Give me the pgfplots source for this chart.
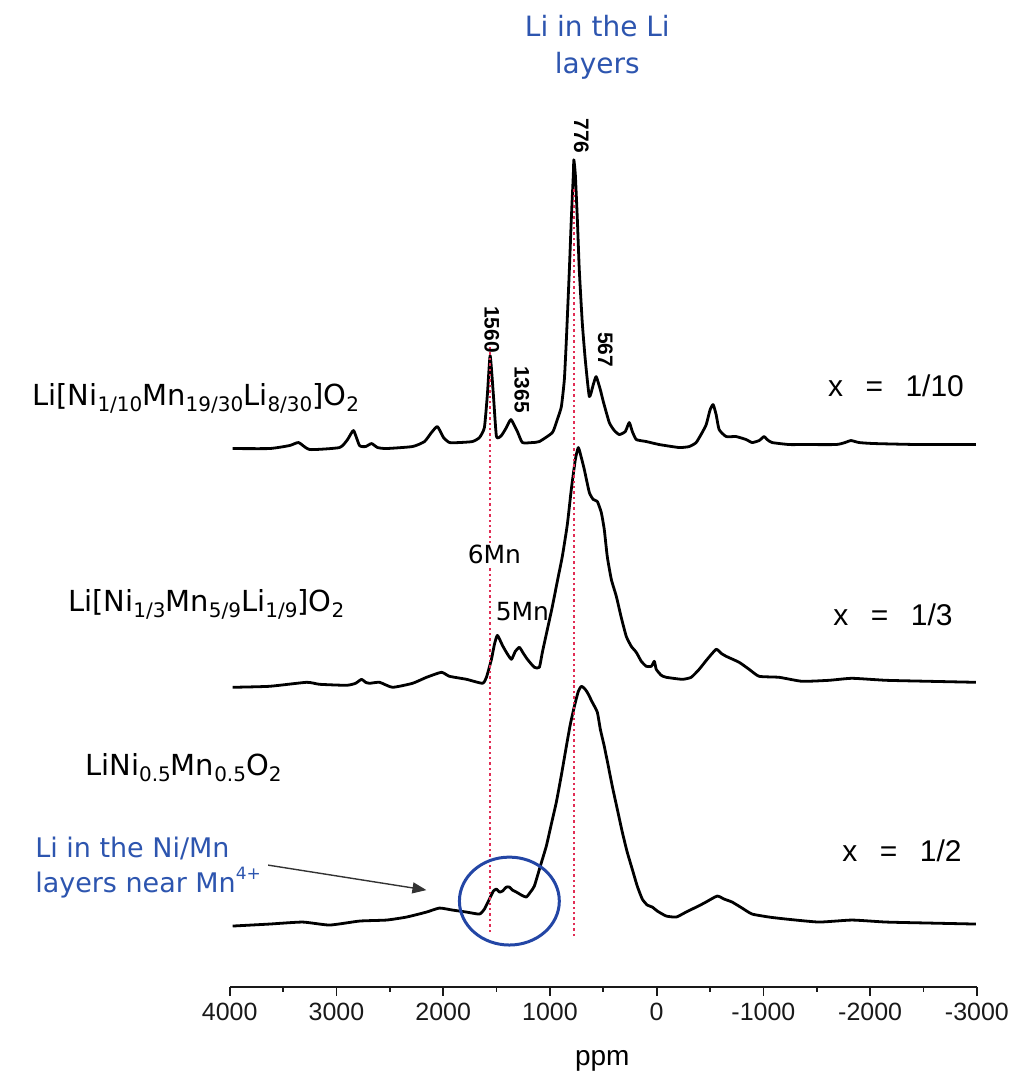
\documentclass[border=0pt]{standalone}
\usepackage{pgfplots}
\pgfplotsset{compat=1.18}
\usepackage{fontspec}
\setmainfont{DejaVu Sans}
\newfontfamily\arialfont{Liberation Sans}
\usetikzlibrary{arrows.meta}

\definecolor{annblue}{RGB}{45,85,175}
\definecolor{circblue}{RGB}{35,70,165}
\definecolor{refred}{RGB}{225,45,85}

% chemical sub- and superscripts
\newcommand\sbs[1]{\raisebox{-0.22em}{\fontsize{10}{10}\selectfont #1}}
\newcommand\sps[1]{\raisebox{0.45em}{\fontsize{8.5}{9}\selectfont #1}}

\begin{document}
\begin{tikzpicture}
\begin{axis}[
  scale only axis, width=374pt, height=494pt,
  xmin=-3000, xmax=4000, ymin=90, ymax=1078,
  x dir=reverse,
  axis x line=bottom, axis y line=none,
  axis line style={-},
  x axis line style={line width=0.85pt, black!90},
  xtick={-3000,-2000,...,4000},
  minor xtick={-2500,-1500,...,3500},
  tick align=outside,
  major tick length=4.5pt, minor tick length=2.5pt,
  every tick/.style={line width=0.85pt, black!90},
  scaled x ticks=false,
  xticklabel style={font=\arialfont\fontsize{12.5}{14}\selectfont, black!90},
  /pgf/number format/assume math mode=true,
  /pgf/number format/1000 sep={},
  clip=false,
  spectrum/.style={black, line width=1.4pt, line join=round, smooth, tension=0.3},
]

% page extent
\path (axis cs:6152,0) rectangle (axis cs:-3318,1078);

% x = 1/10
\addplot[spectrum] coordinates {
(3972,629) (3626,629) (3439,632) (3354,635) (3251,628) (2971,630) (2896,638)
(2840,647) (2784,632) (2727,631) (2671,634) (2615,630) (2531,629) (2287,631)
(2175,636) (2110,645) (2054,651) (1997,640) (1941,635) (1848,635) (1726,636)
(1660,640) (1614,650) (1586,683) (1560,722) (1530,683) (1501,641) (1455,642)
(1408,650) (1365,658) (1305,646) (1258,635) (1165,635) (1099,636) (977,645)
(931,658) (893,671) (865,698) (846,738) (818,808) (800,858) (781,903)
(776,918) (762,903) (743,858) (725,808) (697,755) (669,718) (631,681)
(594,693) (567,701) (528,688) (500,676) (444,655) (397,647) (350,643)
(294,646) (257,655) (228,646) (191,638) (97,636) (-24,633) (-211,630)
(-305,631) (-370,635) (-426,645) (-464,653) (-501,668) (-529,673) (-557,663)
(-585,648) (-651,641) (-744,641) (-838,638) (-894,635) (-960,637) (-1006,641)
(-1035,638) (-1081,635) (-1240,633) (-1362,633) (-1680,633) (-1764,635)
(-1821,637) (-1896,635) (-2036,634) (-2457,633) (-2990,633)
};

% x = 1/3
\addplot[spectrum] coordinates {
(3972,390) (3626,391) (3279,395) (3158,393) (2905,392) (2821,394) (2765,398)
(2727,395) (2690,394) (2596,395) (2475,390) (2287,394) (2156,400) (2016,405)
(1941,401) (1782,398) (1632,394) (1595,400) (1548,418) (1520,433) (1492,442)
(1445,432) (1408,425) (1361,418) (1324,426) (1286,430) (1249,424) (1211,418)
(1146,410) (1099,410) (1071,425) (1024,448) (977,471) (931,496) (884,521)
(837,553) (800,588) (762,618) (734,630) (706,620) (678,608) (631,585)
(594,578) (556,576) (519,565) (491,548) (463,521) (425,498) (378,481)
(332,460) (285,441) (238,431) (191,425) (144,416) (97,411) (50,411) (22,416)
(4,408) (-43,402) (-90,400) (-239,398) (-323,400) (-398,408) (-473,418)
(-557,428) (-604,424) (-651,421) (-773,415) (-866,408) (-960,401) (-1147,400)
(-1362,396) (-1615,397) (-1830,399) (-2148,397) (-2551,396) (-2990,395)
};

% x = 1/2
\addplot[spectrum] coordinates {
(3972,151) (3626,153) (3317,155) (3064,152) (2783,156) (2531,157) (2344,160)
(2156,165) (2035,169) (1913,167) (1782,165) (1660,163) (1614,168) (1567,178)
(1530,186) (1501,188) (1473,185) (1445,186) (1408,190) (1380,190) (1352,187)
(1314,185) (1267,182) (1221,180) (1183,185) (1146,191) (1090,211) (1034,231)
(987,253) (940,275) (893,302) (846,331) (809,353) (771,371) (734,386)
(706,391) (678,389) (650,385) (603,375) (556,365) (528,348) (491,331)
(453,311) (416,291) (369,268) (322,245) (276,225) (229,208) (182,191)
(135,178) (88,172) (41,170) (-6,166) (-90,161) (-183,160) (-258,164)
(-333,168) (-445,174) (-566,181) (-632,178) (-707,175) (-800,169) (-894,163)
(-1053,160) (-1212,158) (-1521,155) (-1830,157) (-2148,155) (-2551,154)
(-2990,153)
};

% reference shifts
\addplot[refred, line width=1.25pt, dash pattern=on 1.2pt off 1.5pt] coordinates {(776,141) (776,891)};
\addplot[refred, line width=1.25pt, dash pattern=on 1.2pt off 1.5pt] coordinates {(1560,145) (1560,731)};

% peak positions
\begin{scope}[every node/.style={rotate=-90, font=\arialfont\bfseries\fontsize{10.5}{11}\selectfont, inner sep=0pt}]
\node at (axis cs:706,942) {776};
\node at (axis cs:1544,748) {1560};
\node at (axis cs:1263,688) {1365};
\node at (axis cs:481,728) {567};
\end{scope}

% compositions
\begin{scope}[every node/.style={font=\fontsize{14.5}{17}\selectfont, inner sep=0pt}]
\node[anchor=base west] at (axis cs:5853,672) {Li[Ni\sbs{1/10}Mn\sbs{19/30}Li\sbs{8/30}]O\sbs{2}};
\node[anchor=base west] at (axis cs:5516,466) {Li[Ni\sbs{1/3}Mn\sbs{5/9}Li\sbs{1/9}]O\sbs{2}};
\node[anchor=base west] at (axis cs:5357,302) {LiNi\sbs{0.5}Mn\sbs{0.5}O\sbs{2}};
\end{scope}

\begin{scope}[every node/.style={font=\arialfont\fontsize{15}{17}\selectfont, inner sep=0pt}]
\node at (axis cs:-2242,692) {x\hspace{0.75em}=\hspace{0.75em}1/10};
\node at (axis cs:-2214,463) {x\hspace{0.75em}=\hspace{0.75em}1/3};
\node at (axis cs:-2298,226) {x\hspace{0.75em}=\hspace{0.75em}1/2};
\end{scope}

\node[font=\fontsize{12.5}{14}\selectfont, fill=white, inner sep=1pt] at (axis cs:1520,523) {6Mn};
\node[font=\fontsize{12.5}{14}\selectfont, inner sep=1pt] at (axis cs:1258,466) {5Mn};

% annotations
\node[annblue, font=\fontsize{14}{18.5}\selectfont, align=center] at (axis cs:556,1031) {Li in the Li\\layers};
\node[annblue, font=\fontsize{13.5}{17.5}\selectfont, align=left, anchor=west, inner sep=0pt] at (axis cs:5825,210)
  {Li in the Ni/Mn\\layers near Mn\sps{4+}};
\draw[black!80, line width=0.7pt, -{Triangle[length=7pt,width=5.5pt]}] (axis cs:3640,212) -- (axis cs:2157,187);
\draw[circblue, line width=1.5pt] (axis cs:1380,176) ellipse [x radius=25pt, y radius=22pt];

\node[font=\arialfont\fontsize{14}{16}\selectfont] at (axis cs:509,16) {ppm};
\end{axis}
\end{tikzpicture}
\end{document}
